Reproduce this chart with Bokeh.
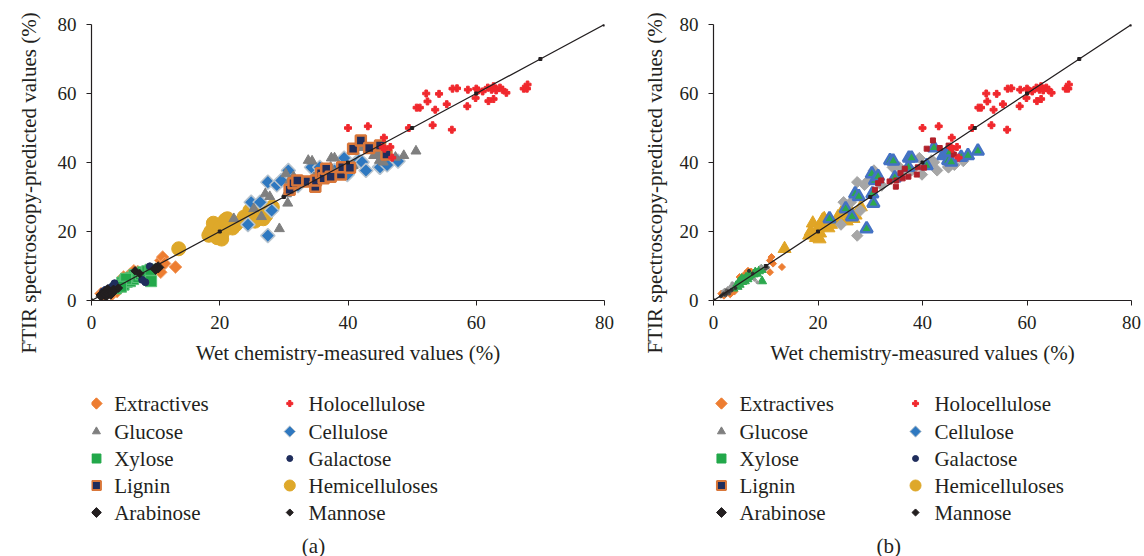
import math
from bokeh.plotting import figure
from bokeh.layouts import row, column
from bokeh.models import Range1d, FixedTicker, Title
from bokeh.embed import file_html
from bokeh.resources import INLINE
from bokeh.core.properties import value

FONT = "Liberation Serif"
INK = "#231f20"

# ---------------- data (wet chemistry x, FTIR predicted y) ----------------
categories = ["Extractives", "Glucose", "Xylose", "Lignin", "Arabinose",
              "Holocellulose", "Cellulose", "Galactose", "Hemicelluloses", "Mannose"]

extractives_x = [1.5, 2.0, 2.6, 3.2, 4.0, 5.0, 6.0, 6.6, 7.2, 10.8, 10.8, 11.1, 11.4, 13.1]
extractives_y = [2.0, 1.4, 2.5, 1.8, 2.6, 6.8, 7.6, 8.6, 8.4, 11.6, 8.2, 12.6, 10.7, 9.7]

glucose_x = [22.2, 25.3, 26.5, 27.1, 27.8, 29.3, 30.3, 30.4, 30.6, 30.9, 31.5, 33.8, 34.4, 34.7,
             37.3, 37.4, 37.9, 40.8, 42.2, 44.0, 44.6, 44.9, 45.2, 45.5, 47.4, 48.7, 50.6]
glucose_y = [23.7, 26.6, 24.3, 30.9, 30.1, 20.8, 36.7, 30.9, 28.2, 34.8, 35.9, 40.6, 40.4, 35.6,
             38.6, 41.3, 41.3, 39.1, 44.3, 42.0, 42.5, 40.6, 43.0, 40.1, 41.5, 42.0, 43.3]

xylose_x = [3.8, 4.3, 4.8, 5.0, 5.2, 5.5, 5.8, 6.0, 6.2, 6.5, 6.7, 7.0, 7.3, 7.7, 8.0, 8.3, 8.7, 9.2, 9.3, 5.4, 4.6]
xylose_y = [3.5, 4.2, 5.2, 4.6, 5.8, 5.4, 6.0, 5.6, 6.6, 6.2, 7.4, 7.0, 6.8, 7.6, 8.2, 7.8, 8.5, 8.9, 5.6, 6.3, 4.0]

lignin_x = [30.9, 31.5, 32.1, 33.7, 34.9, 35.0, 35.8, 36.2, 36.6, 37.3, 38.9, 39.1, 40.3, 40.8, 42.0, 43.3, 45.0, 46.0]
lignin_y = [32.1, 34.0, 34.8, 34.5, 33.0, 34.8, 36.9, 35.4, 38.2, 35.9, 36.5, 38.6, 38.5, 44.0, 46.4, 44.2, 44.9, 42.3]

arabinose_x = [1.6, 2.0, 2.3, 2.7, 3.0, 3.4, 2.5, 10.4, 10.0]
arabinose_y = [1.6, 2.1, 1.5, 2.4, 2.0, 2.8, 2.9, 9.6, 9.2]

holocellulose_x = [40.0, 43.1, 45.4, 45.6, 45.7, 46.6, 46.9, 49.5, 50.7, 51.2, 52.2, 52.4, 53.2, 53.6,
                   54.2, 55.4, 56.2, 56.3, 57.0, 58.6, 58.7, 59.9, 60.0, 60.3, 61.0, 61.8, 61.9, 62.4,
                   62.7, 62.7, 63.1, 63.7, 64.1, 64.7, 67.4, 67.9, 68.0]
holocellulose_y = [50.0, 50.5, 44.5, 47.2, 44.0, 44.5, 41.4, 50.0, 55.9, 55.9, 60.0, 57.7, 50.8, 55.3,
                   59.9, 56.9, 49.5, 61.4, 61.5, 56.3, 61.1, 58.7, 61.4, 60.9, 60.6, 61.7, 57.8, 61.1,
                   62.1, 58.4, 60.9, 61.7, 61.1, 60.2, 61.4, 61.4, 62.6]

cellulose_x = [24.4, 24.9, 26.3, 27.5, 27.5, 28.1, 28.9, 29.6, 30.7, 32.2, 34.3, 35.6, 35.9, 37.9,
               39.4, 39.9, 41.2, 41.7, 42.2, 42.8, 44.9, 45.0, 46.1, 47.8]
cellulose_y = [22.0, 28.5, 28.5, 34.3, 18.8, 26.1, 33.5, 34.8, 37.7, 33.3, 38.6, 38.6, 36.9, 37.7,
               41.3, 36.5, 39.9, 40.6, 40.1, 37.7, 38.7, 38.6, 39.3, 40.4]

galactose_x = [1.8, 2.2, 2.5, 2.8, 3.0, 3.3, 3.6, 2.0, 8.4, 9.1, 7.9]
galactose_y = [2.6, 3.1, 2.3, 3.6, 2.9, 4.2, 5.0, 1.5, 5.3, 9.9, 6.0]

hemicelluloses_x = [13.6, 18.3, 18.6, 19.0, 19.6, 20.0, 20.4, 20.8, 21.2, 21.5, 21.7, 22.0, 22.5, 23.5,
                    23.8, 24.7, 25.2, 25.5, 26.2, 26.8, 27.2, 28.2, 20.3, 21.0]
hemicelluloses_y = [15.0, 18.9, 20.0, 22.4, 18.2, 21.0, 19.5, 23.2, 23.7, 22.0, 22.7, 21.0, 22.0, 23.2,
                    24.2, 26.1, 25.1, 23.0, 26.1, 23.7, 24.7, 27.1, 17.8, 23.5]

mannose_x = [1.4, 1.9, 2.4, 2.9, 3.5, 4.2, 6.8, 7.5]
mannose_y = [1.2, 1.8, 2.0, 2.6, 3.1, 3.6, 8.6, 7.8]

identity_x = [0, 10, 20, 30, 40, 50, 60, 70, 80]
identity_y = [0, 10, 20, 30, 40, 50, 60, 70, 80]

axis_ticks = [0, 20, 40, 60, 80]

series = {
    "Extractives": (extractives_x, extractives_y),
    "Glucose": (glucose_x, glucose_y),
    "Xylose": (xylose_x, xylose_y),
    "Lignin": (lignin_x, lignin_y),
    "Arabinose": (arabinose_x, arabinose_y),
    "Holocellulose": (holocellulose_x, holocellulose_y),
    "Cellulose": (cellulose_x, cellulose_y),
    "Galactose": (galactose_x, galactose_y),
    "Hemicelluloses": (hemicelluloses_x, hemicelluloses_y),
    "Mannose": (mannose_x, mannose_y),
}

# ---------------- styles ----------------
D = math.pi / 4
ORANGE, GRAY, GREEN, NAVY, RED, BLUE, GOLD = "#ED7D31", "#7F7F7F", "#22A84A", "#1F2D5C", "#F0282D", "#2E78C0", "#DEA82A"

style_a = {
    "Extractives": dict(marker="square", angle=D, size=9, fill_color=ORANGE, line_color="#F4A36E", line_width=1),
    "Glucose": dict(marker="triangle", size=10, fill_color=GRAY, line_color=GRAY),
    "Xylose": dict(marker="square", size=11, fill_color=GREEN, line_color="#5CC27A", line_width=1),
    "Lignin": dict(marker="square", size=10, fill_color=NAVY, line_color="#D9773A", line_width=2.5),
    "Arabinose": dict(marker="square", angle=D, size=8, fill_color=INK, line_color=INK),
    "Holocellulose": dict(marker="plus", size=7, fill_color=RED, line_color=RED),
    "Cellulose": dict(marker="square", angle=D, size=10, fill_color=BLUE, line_color="#B8C4CE", line_width=1.5),
    "Galactose": dict(marker="circle", size=7, fill_color=NAVY, line_color=NAVY),
    "Hemicelluloses": dict(marker="circle", size=14, fill_color=GOLD, line_color=GOLD),
    "Mannose": dict(marker="square", angle=D, size=6, fill_color=INK, line_color=INK),
}
order_a = ["Hemicelluloses", "Cellulose", "Glucose", "Lignin", "Holocellulose",
           "Extractives", "Xylose", "Galactose", "Arabinose", "Mannose"]

style_b = {
    "Extractives": dict(marker="square", angle=D, size=5, fill_color=ORANGE, line_color=ORANGE),
    "Glucose": dict(marker="triangle", size=12, fill_color="#2DA84E", line_color="#4472C4", line_width=2.5),
    "Xylose": dict(marker="triangle", size=9, fill_color="#2DA84E", line_color="#2DA84E"),
    "Lignin": dict(marker="square", size=5, fill_color="#B2202A", line_color="#B2202A"),
    "Arabinose": dict(marker="circle", size=3, fill_color="#555555", line_color="#555555"),
    "Holocellulose": dict(marker="plus", size=7, fill_color=RED, line_color=RED),
    "Cellulose": dict(marker="square", angle=D, size=8, fill_color="#A6A6A6", line_color="#A6A6A6"),
    "Galactose": dict(marker="circle", size=3, fill_color="#9A9A9A", line_color="#9A9A9A"),
    "Hemicelluloses": dict(marker="triangle", size=13, fill_color="#E0A526", line_color="#E0A526"),
    "Mannose": dict(marker="circle", size=3, fill_color="#333333", line_color="#333333"),
}
order_b = ["Hemicelluloses", "Cellulose", "Glucose", "Lignin", "Holocellulose",
           "Extractives", "Xylose", "Galactose", "Arabinose", "Mannose"]

style_legend = {
    "Extractives": dict(marker="square", angle=D, size=8, fill_color=ORANGE, line_color=ORANGE),
    "Glucose": dict(marker="triangle", size=8, fill_color=GRAY, line_color=GRAY),
    "Xylose": dict(marker="square", size=9, fill_color=GREEN, line_color=GREEN),
    "Lignin": dict(marker="square", size=9, fill_color=NAVY, line_color="#D9773A", line_width=2),
    "Arabinose": dict(marker="square", angle=D, size=7, fill_color=INK, line_color=INK),
    "Holocellulose": dict(marker="plus", size=6, fill_color=RED, line_color=RED),
    "Cellulose": dict(marker="square", angle=D, size=8, fill_color=BLUE, line_color="#B8C4CE", line_width=1),
    "Galactose": dict(marker="circle", size=6, fill_color=NAVY, line_color=NAVY),
    "Hemicelluloses": dict(marker="circle", size=11, fill_color=GOLD, line_color=GOLD),
    "Mannose": dict(marker="square", angle=D, size=5, fill_color=INK, line_color=INK),
}

PLOT_H = 378
LEG_H = 178


def make_panel(width, left, right, styles, order, title_standoff):
    p = figure(width=width, height=PLOT_H, x_range=Range1d(0, 80), y_range=Range1d(0, 80),
               output_backend="svg", toolbar_location=None,
               min_border_left=left, min_border_right=right, min_border_top=24, min_border_bottom=78)
    p.outline_line_color = None
    p.grid.visible = False
    for ax in (p.xaxis[0], p.yaxis[0]):
        ax.ticker = FixedTicker(ticks=axis_ticks)
        ax.minor_tick_line_color = None
        ax.major_tick_in = 0
        ax.major_tick_out = 5
        ax.axis_line_color = INK
        ax.major_tick_line_color = INK
        ax.axis_line_width = 1.2
        ax.major_label_text_font = FONT
        ax.major_label_text_font_size = "19px"
        ax.major_label_text_color = INK
    p.yaxis.major_label_standoff = 10
    p.xaxis.major_label_standoff = 10
    p.xaxis.axis_label = "Wet chemistry-measured values (%)"
    p.xaxis.axis_label_text_font = FONT
    p.xaxis.axis_label_text_font_size = "21px"
    p.xaxis.axis_label_text_font_style = "normal"
    p.xaxis.axis_label_text_color = INK
    p.xaxis.axis_label_standoff = 9
    p.add_layout(Title(text="FTIR spectroscopy-predicted values (%)", align="left", offset=-53,
                       standoff=title_standoff,
                       text_font=FONT, text_font_size="21px", text_font_style="normal",
                       text_color=INK), "left")
    for name in order:
        xs, ys = series[name]
        p.scatter(xs, ys, **styles[name])
    p.line(identity_x, identity_y, line_color=INK, line_width=1.3)
    p.scatter(identity_x, identity_y, marker="square", size=3, fill_color=INK, line_color=INK)
    return p


def make_legend(width, left, right, col_mx, col_tx, row_y, cap_text, cap_x, cap_y):
    # frame is aligned with the plot above, so x values are canvas pixels of this column
    q = figure(width=width, height=LEG_H, x_range=Range1d(left, width - right), y_range=Range1d(LEG_H, 0),
               output_backend="svg", toolbar_location=None, x_axis_location=None, y_axis_location=None,
               min_border_left=left, min_border_right=right, min_border_top=0, min_border_bottom=0)
    q.outline_line_color = None
    q.grid.visible = False
    for i, name in enumerate(categories):
        c = i // 5
        r = i % 5
        q.scatter([col_mx[c]], [row_y[r]], **style_legend[name])
        q.text([col_tx[c]], [row_y[r]], text=[name], text_font=value(FONT), text_font_size="21px",
               text_color=INK, text_align="left", text_baseline="middle")
    q.text([cap_x], [cap_y], text=[cap_text], text_font=value(FONT), text_font_size="21px",
           text_color=INK, text_align="center", text_baseline="middle")
    return q


rows_y = [25, 53, 80, 107, 134]
pa = make_panel(630, 84, 26, style_a, order_a, 28)
pb = make_panel(514, 81, 13, style_b, order_b, 20)
la = make_legend(630, 84, 26, [89, 285], [107, 304], rows_y, "(a)", 309, 167)
lb = make_legend(514, 81, 13, [89, 284], [107, 303], rows_y, "(b)", 257, 167)

layout = row(column(pa, la), column(pb, lb))
open("out.html", "w").write(file_html(layout, INLINE))
